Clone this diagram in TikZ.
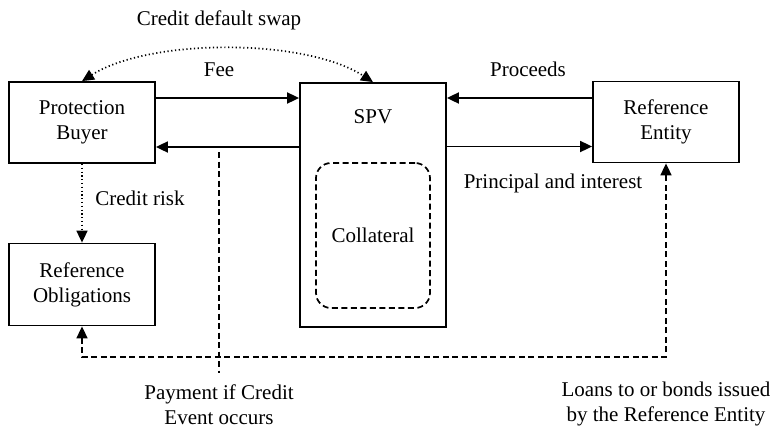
\documentclass[tikz,border=0pt]{standalone}
\usepackage{fontspec}
\setmainfont{Liberation Serif}
\usetikzlibrary{arrows.meta,calc}
\begin{document}
\begin{tikzpicture}[x=1pt,y=-1pt, >={Triangle[length=12pt,width=11pt]},
  every node/.style={font=\fontsize{21}{25}\selectfont, inner sep=0pt, align=center},
  box/.style={draw, line width=1.8pt, minimum width=146pt, minimum height=81pt},
  arr/.style={line width=1.8pt, ->},
  dsh/.style={line width=1.7pt, dash pattern=on 6pt off 3.5pt},
  dot/.style={line width=1.7pt, dash pattern=on 1.2pt off 2.6pt}]
\useasboundingbox (0,0) rectangle (777,429);
\node[box] (pb) at (82,122.5) {Protection\\Buyer};
\node[box, minimum height=82pt] (ro) at (82,284.5) {Reference\\Obligations};
\node[box, minimum height=244pt] (spv) at (373,205) {};
\node (spvl) at (373,117) {SPV};
\node[dsh, draw, rounded corners=15pt, minimum width=114pt, minimum height=145pt] (coll) at (373,235.5) {Collateral};
\node[box] (re) at (666,122) {Reference\\Entity};
% arrows
\draw[arr] ([yshift=24.5pt]pb.east) -- ([yshift=24.5pt]pb.east -| spv.west);
\draw[arr] ([yshift=-24.5pt]pb.east -| spv.west) -- ([yshift=-24.5pt]pb.east);
\draw[arr] ([yshift=24pt]re.west) -- ([yshift=24pt]re.west -| spv.east);
\draw[arr] ([yshift=-24.5pt]re.west -| spv.east) -- ([yshift=-24.5pt]re.west);
% credit default swap
\draw[dot, <->] (pb.north) .. controls (150,38) and (305,38) .. (spv.north);
% credit risk
\draw[dot, ->] (pb.south) -- (ro.north);
% loans loop
\coordinate (lb) at (82,357);
\coordinate (rb) at (666,357);
\draw[dsh, <->] (ro.south) -- (lb) -- (rb) -- (re.south);
% payment line
\coordinate (pt) at (219,152);
\coordinate (pe) at (219,373);
\draw[dsh] (pt) -- (pe);
% labels
\node (l1) at (219,20) {Credit default swap};
\node (l2) at (219,70) {Fee};
\node (l3) at (528,69) {Proceeds};
\node (l4) at (553,183) {Principal and interest};
\node (l5) at (140,198) {Credit risk};
\node (l6) at (219,405) {Payment if Credit\\Event occurs};
\node (l7) at (666,404) {Loans to or bonds issued\\by the Reference Entity};
\end{tikzpicture}
\end{document}
